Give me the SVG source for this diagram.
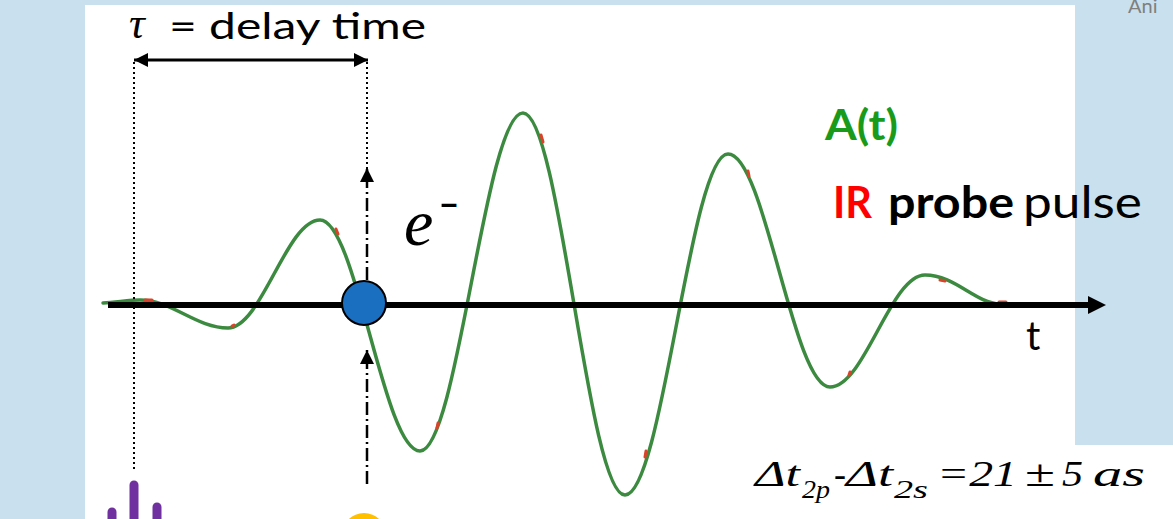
<svg xmlns="http://www.w3.org/2000/svg" width="1173" height="519" viewBox="0 0 1173 519">
<style>
.cal{font-family:Lato,"Open Sans","Liberation Sans",sans-serif}
.ser{font-family:"Liberation Serif","Times New Roman",serif;font-style:italic}
.dot{stroke:#000;stroke-width:2;stroke-dasharray:2 3;fill:none}
.dd{stroke:#000;stroke-width:2.5;stroke-dasharray:13 4 2 4;fill:none}
.wave{fill:none;stroke:#3c8a40;stroke-width:3.5;stroke-linecap:round}
.red{stroke:#d9432a;stroke-width:3;stroke-linecap:round}
.pul{stroke:#7030a0;stroke-width:9;stroke-linecap:round}
</style>
<defs>
<marker id="ah" viewBox="0 0 10 10" refX="10" refY="5" markerWidth="14" markerHeight="14" markerUnits="userSpaceOnUse" orient="auto-start-reverse">
<path d="M0,0 L10,5 L0,10 Z" fill="#000"/>
</marker>
</defs>
<rect width="1173" height="519" fill="#c9e1ee"/>
<rect x="85" y="5" width="990" height="441" fill="#fff"/>
<rect x="85" y="445" width="1088" height="74" fill="#fff"/>
<text x="1128" y="13" class="cal" font-size="20" fill="#7f7f7f">Ani</text>

<g id="title">
<text x="129" y="38" class="ser" font-size="44" fill="#000">τ</text>
<text x="169" y="39" class="cal" font-size="36" fill="#000" textLength="257" lengthAdjust="spacingAndGlyphs">= delay time</text>
</g>

<g id="waveform">
<path class="wave" d="M103,303 C118,302 130,300 140,300 C172,300 196,328 228,328 C261.5,328 286.5,220 320,220 C356.4,220 383.6,451 420,451 C457.5,451 485.5,113 523,113 C560.1,113 587.9,495 625,495 C662.5,495 690.5,154 728,154 C765.1,154 792.9,387 830,387 C864.6,387 890.4,275 925,275 C955,275 975,303 1000,304 L1010,304"/>
<g class="red">
<line x1="145" y1="300" x2="152" y2="300"/>
<line x1="232" y1="326" x2="234" y2="325"/>
<line x1="336" y1="229" x2="338" y2="234"/>
<line x1="438" y1="423" x2="437" y2="428"/>
<line x1="541" y1="135" x2="543" y2="142"/>
<line x1="646" y1="451" x2="645" y2="457"/>
<line x1="748" y1="171" x2="749" y2="176"/>
<line x1="850" y1="372" x2="849" y2="375"/>
<line x1="940" y1="280" x2="945" y2="281"/>
<line x1="999" y1="302" x2="1006" y2="302"/>
</g>
</g>

<g id="connectors">
<line x1="134" y1="60" x2="368" y2="60" stroke="#000" stroke-width="3" marker-start="url(#ah)" marker-end="url(#ah)"/>
<line class="dot" x1="134" y1="62" x2="134" y2="472"/>
<line class="dot" x1="367" y1="62" x2="367" y2="170"/>
<line class="dd" x1="367" y1="280" x2="367" y2="168" marker-end="url(#ah)"/>
<line class="dd" x1="367" y1="484" x2="367" y2="350" marker-end="url(#ah)"/>
<line x1="108" y1="305" x2="1090" y2="305" stroke="#000" stroke-width="6"/>
<polygon points="1106,305 1088,296 1088,314" fill="#000"/>
</g>

<g id="electron">
<circle cx="364" cy="303" r="22" fill="#1b6fc0" stroke="#000" stroke-width="2"/>
</g>

<g id="e-label">
<text x="404" y="245" class="ser" font-size="66" fill="#000">e</text>
<text x="439" y="221" font-family="Lato,'Liberation Sans',sans-serif" font-size="46" fill="#000" textLength="20" lengthAdjust="spacingAndGlyphs">−</text>
</g>

<g id="labels">
<text x="825" y="140" class="cal" font-size="42" font-weight="bold" fill="#1a9a1a" textLength="73" lengthAdjust="spacingAndGlyphs">A(t)</text>
<text y="218" class="cal" font-size="44" fill="#000"><tspan x="833" fill="#ff0000" font-weight="bold" textLength="39" lengthAdjust="spacingAndGlyphs">IR</tspan><tspan x="888" font-weight="bold" textLength="126" lengthAdjust="spacingAndGlyphs">probe</tspan><tspan x="1023" textLength="119" lengthAdjust="spacingAndGlyphs">pulse</tspan></text>
<text x="1026" y="350" class="cal" font-size="40" fill="#000">t</text>
</g>

<g id="formula" class="ser" fill="#000">
<text x="755" y="486" font-size="36" textLength="45" lengthAdjust="spacingAndGlyphs">Δt</text>
<text x="802" y="498" font-size="25" textLength="28" lengthAdjust="spacingAndGlyphs">2p</text>
<text x="834" y="486" font-size="36" font-style="normal">-</text>
<text x="846" y="486" font-size="36" textLength="47" lengthAdjust="spacingAndGlyphs">Δt</text>
<text x="894" y="498" font-size="25" textLength="34" lengthAdjust="spacingAndGlyphs">2s</text>
<text x="937" y="486" font-size="36" textLength="80" lengthAdjust="spacingAndGlyphs">=21</text>
<text x="1025" y="486" font-size="38" font-style="normal" textLength="30" lengthAdjust="spacingAndGlyphs">±</text>
<text x="1062" y="486" font-size="36" textLength="21" lengthAdjust="spacingAndGlyphs">5</text>
<text x="1093" y="486" font-size="36" textLength="52" lengthAdjust="spacingAndGlyphs">as</text>
</g>

<g id="xuv-pulse">
<line class="pul" x1="112" y1="512" x2="112" y2="530"/>
<line class="pul" x1="134" y1="485" x2="134" y2="530"/>
<line class="pul" x1="157" y1="507" x2="157" y2="530"/>
</g>
<g id="ir-source">
<circle cx="364" cy="535" r="22" fill="#ffc000"/>
</g>
</svg>
